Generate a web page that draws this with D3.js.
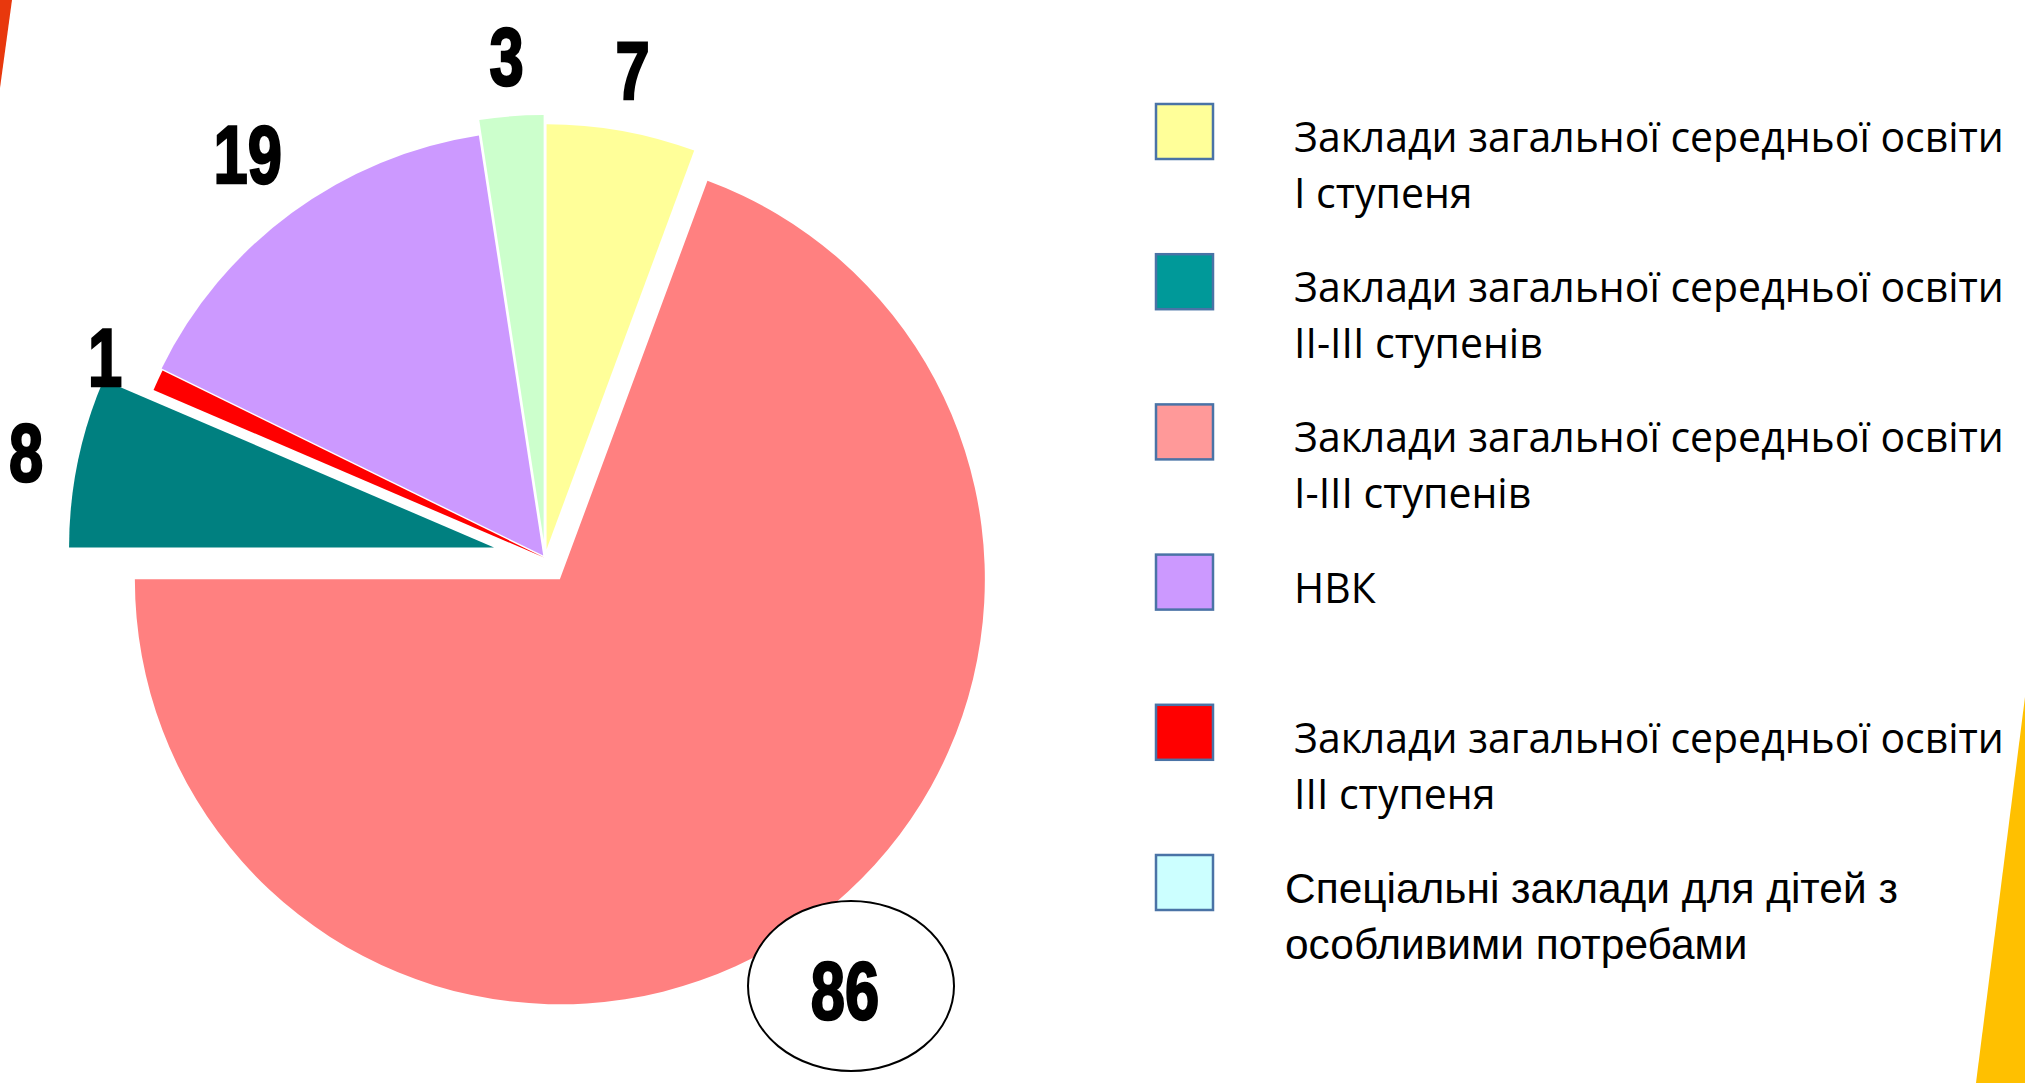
<!DOCTYPE html>
<html>
<head>
<meta charset="utf-8">
<script src="https://cdn.jsdelivr.net/npm/d3@7"></script>
<style>
  html, body { margin: 0; padding: 0; background: #fff; }
  svg { display: block; }
</style>
</head>
<body>
<div id="chart"></div>
<script>
// categories in legend order (each one split into its text lines)
const categories = [
  ['Заклади загальної середньої освіти', 'I ступеня'],
  ['Заклади загальної середньої освіти', 'II-III ступенів'],
  ['Заклади загальної середньої освіти', 'I-III ступенів'],
  ['НВК'],
  ['Заклади загальної середньої освіти', 'III ступеня'],
  ['Спеціальні заклади для дітей з', 'особливими потребами'],
];
const values = [7, 8, 86, 19, 1, 3];
// order of the slices round the pie, clockwise from 12 o'clock
const pieOrder = [0, 2, 1, 4, 3, 5];

const sliceColors = ['#FFFF99', '#008080', '#FF8080', '#CC99FF', '#FF0000', '#CCFFCC'];
const legendColors = ['#FFFF99', '#009999', '#FF9999', '#CC99FF', '#FF0000', '#CCFFFF'];
// how far each slice is pulled out of the pie, px
const explodePx = [9, 52, 26, 3, 1, 18];

const W = 2025, H = 1083;
const cx = 545, cy = 558, radius = 425;

const svg = d3.select('#chart').append('svg')
  .attr('width', W)
  .attr('height', H);

svg.append('rect').attr('width', W).attr('height', H).attr('fill', '#fff');

// slide decoration in the corners
svg.append('path').attr('d', 'M0,0 L12,0 L0,88 Z').attr('fill', '#E8380D');
svg.append('path').attr('d', `M${W},697 L${W},${H} L1976,${H} Z`).attr('fill', '#FFC000');

// pie
const pie = d3.pie().sort(null).value(d => d.value);
const arcs = pie(pieOrder.map(i => ({ i, value: values[i] })));
const arc = d3.arc().innerRadius(0).outerRadius(radius);

const mid = d => (d.startAngle + d.endAngle) / 2;
const shift = d => {
  const a = mid(d), e = explodePx[d.data.i];
  return [Math.sin(a) * e, -Math.cos(a) * e];
};

const g = svg.append('g').attr('transform', `translate(${cx},${cy})`);

g.selectAll('path.slice')
  .data(arcs)
  .join('path')
  .attr('class', 'slice')
  .attr('d', arc)
  .attr('transform', d => `translate(${shift(d)})`)
  .attr('fill', d => sliceColors[d.data.i]);

// value labels, outside each slice
const squeeze = 0.75, digitH = 60, gap = 30;
const labels = g.selectAll('g.lbl')
  .data(arcs)
  .join('g')
  .attr('class', 'lbl');

labels.append('text')
  .text(d => d.data.value)
  .attr('text-anchor', 'middle')
  .attr('y', digitH / 2)
  .attr('transform', `scale(${squeeze},1)`)
  .attr('font-family', "'Liberation Sans', Arial, sans-serif")
  .attr('font-weight', 'bold')
  .attr('font-size', 82)
  .attr('fill', '#000')
  .attr('stroke', '#000')
  .attr('stroke-width', 2.5);

labels.each(function (d) {
  const w = this.getBBox().width;
  const a = mid(d), s = Math.sin(a), c = -Math.cos(a);
  const extra = (w / 2) * Math.abs(s) + (digitH / 2) * Math.abs(c);
  const r = radius + explodePx[d.data.i] + gap + extra;
  d.lx = s * r;
  d.ly = c * r;
  d3.select(this).attr('transform', `translate(${d.lx},${d.ly})`);
});

// ring round the biggest value
const big = arcs.find(d => d.data.value === d3.max(values));
g.insert('ellipse', 'g.lbl')
  .attr('cx', big.lx + 6)
  .attr('cy', big.ly - 3)
  .attr('rx', 103)
  .attr('ry', 85)
  .attr('fill', '#fff')
  .attr('stroke', '#000')
  .attr('stroke-width', 2);

// legend
const legendY = d3.scalePoint()
  .domain(d3.range(categories.length))
  .range([104, 855]);

const rows = svg.append('g')
  .selectAll('g')
  .data(categories)
  .join('g')
  .attr('transform', (d, i) => `translate(0,${legendY(i)})`);

rows.append('rect')
  .attr('x', 1156)
  .attr('width', 57)
  .attr('height', 55)
  .attr('fill', (d, i) => legendColors[i])
  .attr('stroke', '#4A73A6')
  .attr('stroke-width', 2.5);

const last = categories.length - 1;
const txt = rows.append('g').attr('transform', 'translate(1292,0)');
txt.selectAll('text')
  .data(d => d)
  .join('text')
  .attr('y', (d, k) => 48 + k * 56)
  .attr('fill', '#000')
  .text(d => d);

txt.filter((d, i) => i !== last)
  .attr('font-family', "'Open Sans', sans-serif")
  .attr('font-size', 42);
txt.filter((d, i) => i === last)
  .attr('font-family', "'Liberation Sans', Arial, sans-serif")
  .attr('font-size', 43);

// squeeze the text to the narrow width of the original font
const natural = txt.filter((d, i) => i === 0).select('text').node().getComputedTextLength();
const sx = 710 / natural;
txt.filter((d, i) => i !== last).attr('transform', `translate(1294,0) scale(${sx},1)`);
const natural2 = txt.filter((d, i) => i === last).select('text').node().getComputedTextLength();
const sx2 = 613 / natural2;
txt.filter((d, i) => i === last).attr('transform', `translate(1285,0) scale(${sx2},1)`);
</script>
</body>
</html>
